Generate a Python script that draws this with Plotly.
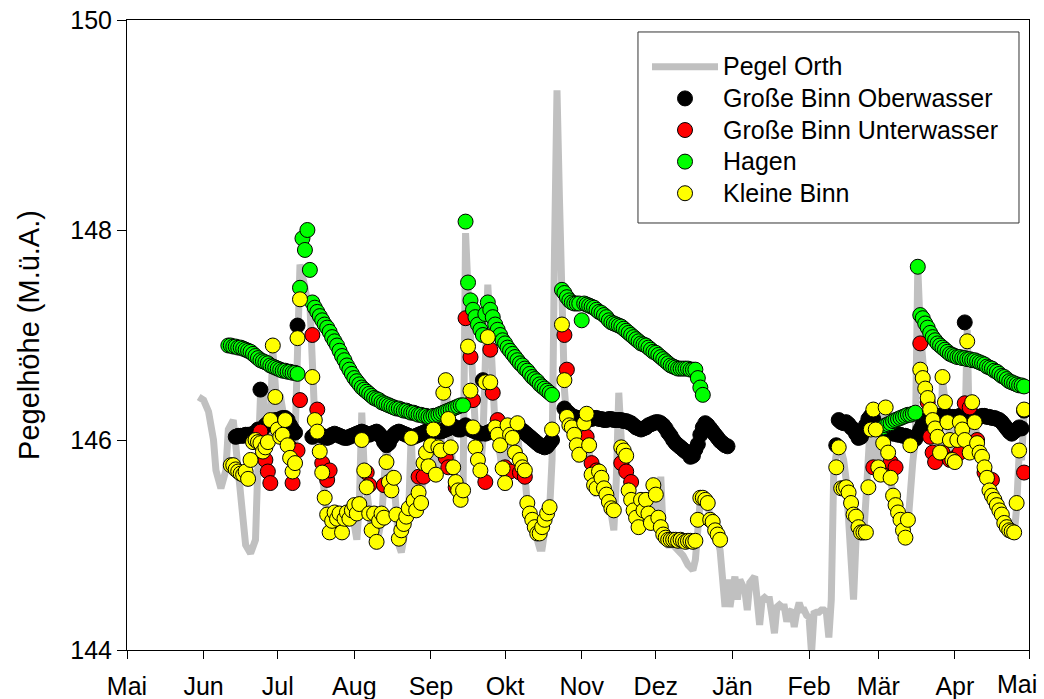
import pandas as pd
import plotly.graph_objects as go

# ---------------- data ----------------
season_start = "2013-05-01"          # day 0 of the season (1. Mai)

month_ticks = ["2013-05-01", "2013-06-01", "2013-07-01", "2013-08-01", "2013-09-01",
               "2013-10-01", "2013-11-01", "2013-12-01", "2014-01-01", "2014-02-01",
               "2014-03-01", "2014-04-01", "2014-05-01"]
month_labels = ["Mai", "Jun", "Jul", "Aug", "Sep", "Okt", "Nov", "Dez",
                "Jän", "Feb", "Mär", "Apr", "Mai"]

# Pegel Orth (day of season, level)
orth_days = [29, 31, 33, 35, 36, 38, 40, 41, 43, 44,
             46, 47, 48, 50, 51, 52, 53, 54, 55, 56,
             57, 58, 59, 60, 61, 62, 63, 64, 65, 66,
             67, 68, 69, 70, 71, 72, 73, 74, 75, 76,
             77, 78, 79, 80, 81, 82, 84, 86, 87, 89,
             91, 93, 94, 95, 96, 97, 98, 99, 101, 103,
             105, 106, 107, 108, 109, 110, 111, 112, 113, 114,
             115, 116, 117, 118, 119, 120, 121, 122, 123, 124,
             125, 126, 127, 128, 129, 130, 131, 132, 133, 134,
             135, 136, 137, 138, 139, 140, 141, 142, 143, 144,
             145, 146, 147, 148, 149, 150, 151, 152, 153, 154,
             155, 156, 157, 158, 159, 160, 161, 162, 163, 164,
             165, 166, 167, 168, 169, 170, 171, 172, 173, 174,
             175, 176, 177, 178, 179, 180, 181, 182, 183, 184,
             185, 186, 187, 188, 189, 190, 191, 192, 193, 194,
             195, 196, 197, 198, 199, 200, 201, 202, 203, 204,
             205, 206, 207, 208, 209, 210, 211, 212, 213, 214,
             215, 216, 217, 218, 219, 221, 223, 225, 227, 229,
             230, 231, 232, 233, 234, 235, 236, 237, 238, 239,
             240, 241, 242, 243, 244, 245, 246, 247, 248, 249,
             250, 251, 252, 253, 254, 255, 256, 257, 258, 259,
             260, 261, 262, 263, 264, 265, 266, 267, 268, 269,
             270, 271, 272, 273, 274, 275, 276, 277, 278, 279,
             280, 281, 282, 283, 284, 285, 286, 287, 288, 289,
             290, 291, 292, 293, 294, 295, 296, 297, 298, 299,
             300, 301, 302, 303, 304, 305, 306, 307, 308, 309,
             310, 311, 312, 313, 314, 315, 316, 317, 318, 319,
             320, 321, 322, 323, 324, 325, 326, 327, 328, 329,
             330, 331, 332, 333, 334, 335, 336, 337, 338, 339,
             340, 341, 342, 343, 344, 345, 346, 347, 348, 349,
             350, 351, 352, 353, 354, 355, 356, 357, 358, 359,
             360, 361, 362, 363]
orth_level = [146.41, 146.38, 146.27, 146.00, 145.71, 145.54, 145.71, 146.10, 146.19, 145.95,
              145.62, 145.24, 145.00, 144.92, 144.98, 145.05, 145.78, 146.41, 146.48, 146.10,
              146.00, 146.19, 146.86, 146.38, 146.19, 146.43, 146.29, 146.19, 146.00, 145.81,
              145.71, 146.00, 146.86, 147.67, 147.57, 147.43, 147.33, 147.30, 146.76, 146.19,
              146.05, 145.86, 145.67, 145.43, 145.26, 145.10, 145.24, 145.29, 145.10, 145.29,
              145.33, 145.05, 145.38, 146.26, 145.71, 145.52, 145.29, 145.14, 145.00, 145.24,
              145.97, 145.62, 145.48, 145.62, 145.29, 145.00, 144.93, 145.10, 145.19, 145.33,
              146.05, 145.43, 145.31, 145.48, 145.38, 145.76, 145.86, 145.71, 145.90, 146.05,
              145.70, 145.90, 145.95, 146.38, 146.57, 146.21, 145.89, 145.71, 145.57, 145.48,
              145.38, 145.52, 147.97, 147.43, 146.90, 146.43, 146.10, 145.86, 145.71, 146.00,
              146.57, 147.48, 147.05, 146.52, 146.10, 145.95, 145.86, 145.67, 145.52, 146.08,
              145.98, 145.95, 145.86, 146.10, 145.79, 145.71, 145.67, 145.38, 145.29, 145.22,
              145.14, 145.05, 144.97, 144.97, 145.14, 145.29, 145.33, 145.81, 147.81, 149.33,
              148.29, 147.33, 146.48, 146.19, 146.14, 146.10, 146.03, 145.90, 145.79, 146.10,
              146.19, 146.26, 145.89, 145.62, 145.50, 145.48, 145.64, 145.57, 145.48, 145.41,
              145.33, 145.29, 145.14, 145.62, 146.45, 146.00, 145.89, 145.83, 145.52, 145.43,
              145.31, 145.24, 145.14, 145.43, 145.31, 145.43, 145.26, 145.16, 145.52, 145.45,
              145.22, 145.65, 145.10, 145.05, 145.00, 145.00, 144.95, 144.90, 144.81, 144.76,
              144.86, 145.19, 145.43, 145.45, 145.43, 145.43, 145.22, 145.19, 145.10, 145.05,
              144.95, 144.70, 144.41, 144.67, 144.41, 144.57, 144.70, 144.48, 144.67, 144.62,
              144.57, 144.38, 144.64, 144.67, 144.70, 144.48, 144.24, 144.48, 144.50, 144.48,
              144.48, 144.33, 144.16, 144.41, 144.43, 144.41, 144.41, 144.27, 144.36, 144.38,
              144.22, 144.36, 144.45, 144.38, 144.38, 144.33, 144.31, 143.97, 144.35, 144.36,
              144.36, 144.38, 144.38, 144.36, 144.12, 144.48, 145.71, 145.86, 145.86, 145.90,
              145.81, 145.62, 145.24, 144.67, 144.48, 145.05, 145.14, 145.10, 145.05, 145.43,
              146.00, 146.24, 146.10, 145.71, 145.62, 145.95, 146.29, 145.95, 145.71, 145.62,
              145.48, 145.38, 145.29, 145.21, 145.11, 145.05, 145.19, 145.62, 145.80, 146.00,
              147.64, 147.05, 146.62, 146.48, 146.33, 146.19, 146.10, 146.00, 145.90, 145.81,
              146.57, 146.38, 146.14, 146.00, 145.81, 146.00, 146.24, 146.14, 146.08, 146.00,
              147.05, 145.90, 146.33, 146.14, 145.93, 145.86, 145.81, 145.71, 145.62, 145.50,
              145.46, 145.40, 145.36, 145.30, 145.26, 145.17, 145.12, 145.10, 145.10, 145.10,
              145.36, 145.86, 145.81, 146.26]

# Große Binn Oberwasser: daily readings, each run starts at the given day
ober_run1_start = 44
ober_run1 = [146.03, 146.04, 146.04, 146.04, 146.05, 146.05, 146.05, 146.06, 146.07, 146.10,
             146.48, 146.11, 146.14, 146.16, 146.17, 146.18, 146.19, 146.19, 146.20, 146.21,
             146.21, 146.19, 146.14, 146.10, 146.07, 147.09]
ober_run2_start = 75
ober_run2 = [146.03, 146.05, 146.06, 146.05, 146.04, 146.03,
             146.02, 146.03, 146.05, 146.06, 146.05, 146.04,
             146.03, 146.02, 146.02, 146.03, 146.04, 146.05,
             146.06, 146.07, 146.08, 146.07, 146.06, 146.05,
             146.06, 146.07, 146.08, 146.06, 146.03, 145.98,
             145.95, 145.97, 146.02, 146.05, 146.07, 146.08,
             146.07, 146.06, 146.05, 146.04, 146.03, 146.03,
             146.04, 146.05, 146.06, 146.07, 146.08, 146.09,
             146.10, 146.10, 146.09, 146.08, 146.08, 146.09,
             146.10, 146.11, 146.12, 146.13, 146.12, 146.10,
             146.10, 146.12, 146.14, 146.12, 146.10, 146.09, 146.08, 146.07, 146.06,
             146.57,
             146.06, 146.07, 146.08, 146.09, 146.09, 146.08, 146.07, 146.06,
             146.05, 146.05, 146.06, 146.07, 146.08, 146.09, 146.10, 146.09, 146.07, 146.05,
             146.03, 146.01, 145.99, 145.97, 145.95, 145.94, 145.93, 145.94, 145.97, 146.00]
ober_run3_start = 177
ober_run3 = [146.30, 146.27, 146.25, 146.23, 146.22, 146.21, 146.21, 146.20,
             146.21, 146.21, 146.20, 146.20, 146.21, 146.21, 146.20, 146.20, 146.19, 146.19, 146.20,
             146.20, 146.19, 146.19, 146.19, 146.19, 146.18, 146.18, 146.17,
             146.16, 146.14, 146.12, 146.11, 146.10, 146.11, 146.12, 146.14, 146.15, 146.16, 146.17, 146.17,
             146.16, 146.14, 146.11, 146.07, 146.04, 146.00, 145.97, 145.95, 145.93, 145.91, 145.89,
             145.88, 145.84, 145.85, 145.91,
             145.96, 146.05, 146.12, 146.16, 146.14, 146.11, 146.08, 146.05, 146.02, 145.99,
             145.97, 145.95, 145.94]
ober_run4_start = 287
ober_run4 = [145.95, 146.19, 146.17, 146.16, 146.17, 146.15, 146.12, 146.10, 146.06, 146.02,
             146.03, 146.08, 146.14, 146.20, 146.23, 146.20, 146.15, 146.12,
             146.10, 146.09, 146.09, 146.08, 146.07, 146.06, 146.06, 146.05, 146.05, 146.04,
             146.04, 146.03, 146.02, 146.02, 146.01,
             146.05, 146.10, 146.15, 146.18, 146.19, 146.20, 146.21, 146.22, 146.22, 146.23,
             146.23, 146.23, 146.23, 146.22, 146.22, 146.22, 146.22, 146.23, 146.23,
             147.12,
             146.23, 146.23, 146.23, 146.22, 146.22, 146.22, 146.23, 146.23, 146.22, 146.22, 146.21,
             146.21, 146.20, 146.19, 146.17, 146.14, 146.11, 146.08, 146.06, 146.08, 146.10,
             146.12, 146.11, 146.28]

# Große Binn Unterwasser (day of season, level)
unter_days = [54, 56, 57, 58, 66, 67, 69, 70, 75, 77,
              79, 81, 82, 97, 98, 104, 118, 120, 129, 130,
              133, 137, 139, 140, 145, 147, 148, 150, 153, 155,
              159, 161, 177, 178, 186, 188, 190, 200, 202, 204,
              302, 305, 309, 311, 321, 324, 325, 326, 327, 330,
              333, 335, 337, 339, 341, 343, 344, 347, 350, 363]
unter_level = [146.08, 145.81, 145.70, 145.59, 145.93, 145.59, 145.90, 146.38, 147.00, 146.29,
               145.78, 145.62, 145.71, 145.69, 145.57, 145.57, 145.65, 145.65, 145.83, 145.74,
               145.55, 147.16, 146.79, 146.38, 145.60, 146.86, 146.45, 146.19, 145.74, 145.70,
               145.69, 145.65, 147.00, 146.67, 146.03, 145.78, 145.71, 145.78, 145.70, 145.60,
               145.74, 145.69, 145.79, 145.74, 146.92, 146.36, 146.03, 145.88, 145.79, 145.88,
               145.81, 145.83, 145.88, 146.35, 146.31, 145.93, 146.00, 145.69, 145.62, 145.69]

# Hagen: daily readings
hagen_run1_start = 41
hagen_run1 = [146.90, 146.90, 146.89, 146.89, 146.88, 146.88, 146.87,
              146.86, 146.85, 146.84, 146.82, 146.80, 146.78, 146.76, 146.75, 146.74, 146.73,
              146.71, 146.70, 146.69, 146.68, 146.67, 146.66, 146.66, 146.65, 146.65, 146.64, 146.64, 146.63,
              147.45, 147.92, 147.81, 148.00,
              147.62, 147.31, 147.26, 147.22, 147.18, 147.14, 147.10, 147.07, 147.03, 146.98,
              146.94, 146.90, 146.85, 146.80, 146.76, 146.71, 146.67, 146.63, 146.59, 146.56,
              146.53, 146.50, 146.48, 146.46, 146.44, 146.42, 146.40, 146.39, 146.38, 146.36,
              146.35, 146.34, 146.33, 146.32, 146.31, 146.30, 146.30, 146.29, 146.28, 146.28,
              146.27, 146.26, 146.26, 146.25, 146.24, 146.24, 146.23, 146.23, 146.22, 146.22,
              146.23, 146.23, 146.24, 146.25, 146.26, 146.27, 146.28, 146.29, 146.30, 146.31,
              146.32, 146.33, 146.33,
              148.08,
              147.50, 147.33, 147.24, 147.17, 147.10, 147.05, 147.00,
              147.20, 147.31, 147.24, 147.17, 147.10, 147.05, 147.00,
              146.95, 146.92, 146.88, 146.85, 146.82, 146.79, 146.76, 146.73, 146.71,
              146.68, 146.66, 146.63, 146.60, 146.58, 146.56, 146.53, 146.51, 146.49, 146.47,
              146.45, 146.43]
hagen_run2_start = 176
hagen_run2 = [147.43, 147.40, 147.36, 147.33, 147.31, 147.30, 147.30, 147.30, 147.14, 147.30,
              147.29, 147.28, 147.27, 147.26, 147.24, 147.22, 147.21, 147.19, 147.17, 147.14,
              147.12, 147.11, 147.10, 147.09, 147.08, 147.06, 147.04, 147.02, 147.00, 146.98,
              146.96, 146.94, 146.92, 146.91, 146.90, 146.88, 146.86, 146.84, 146.83, 146.81,
              146.79, 146.77, 146.75, 146.73, 146.71, 146.70, 146.69, 146.68, 146.68, 146.68,
              146.68, 146.68, 146.67, 146.67, 146.67, 146.59, 146.50, 146.43]
hagen_run3_start = 305
hagen_run3 = [146.11, 146.12, 146.14, 146.15, 146.16, 146.18, 146.19, 146.20, 146.21, 146.22,
              146.23, 146.24, 146.24, 146.25, 146.26,
              147.65, 147.19, 147.16, 147.11, 147.07, 147.02, 146.98, 146.95, 146.92, 146.90,
              146.88, 146.86, 146.84, 146.82, 146.81, 146.80, 146.79, 146.79, 146.78, 146.78,
              146.77, 146.77, 146.76, 146.76, 146.75, 146.74, 146.73, 146.72, 146.70, 146.69,
              146.68, 146.66, 146.65, 146.63, 146.61, 146.60, 146.58, 146.56, 146.55, 146.54,
              146.53, 146.52, 146.52, 146.51]

# Kleine Binn: daily readings (None = no reading that day)
kbinn_run1_start = 42
kbinn_run1 = [145.76, 145.76, 145.72, 145.70, 145.68, 145.67, 145.70, 145.63, 145.81, 145.98,
              146.00, 145.98, 145.97, 145.89, 145.93, 145.98, 146.19, 146.90, 146.41, 146.10,
              146.03, 146.05, 146.19, 145.95, 145.83, 145.70, 145.78, 146.97, 147.34, None,
              None, None, None, 146.60, 146.19, 146.08, 145.89, 145.69, 145.45, 145.29,
              145.12, 145.23, 145.31, 145.25, 145.30, 145.12, 145.25, 145.31, 145.25, 145.33,
              145.38, 145.30, 145.39, 146.00, 145.71, 145.55, 145.30, 145.14, 145.30, 145.03,
              145.23, 145.30, 145.26, 145.79, 145.60, 145.52, 145.64, 145.29, 145.06, 145.14,
              145.20, 145.27, 145.35, 146.02, 145.42, 145.33, 145.50, 145.40, 145.78, 145.88,
              145.75, 145.95, 146.10, 145.67, 145.93, 145.90, 146.45, 146.57, 146.20, 145.93,
              145.74, 145.60, 145.52, 145.43, 145.52, None, 146.89, 146.47, 146.12, 145.93,
              145.81, 145.71, None, 146.55, 146.98, 146.55, None, 146.12, 146.05, 145.95,
              145.73, 145.59, 146.14, 146.05, 146.02, 145.88, 146.16, 145.81, 145.74, 145.71,
              145.40, 145.30, 145.24, 145.17, 145.11, 145.11, 145.17, 145.24, 145.30, 145.36,
              146.10, None, None, None, 147.10, 146.57, 146.22, 146.14, 146.12, 146.05,
              145.95, 145.86, None, 146.16, 146.25, 145.95, 145.67, 145.57, 145.54, 145.70,
              145.64, 145.54, 145.48, 145.41, 145.35, 145.33, None, None, 145.93, 145.90,
              145.85, 145.52, 145.43, 145.33, 145.26, 145.17, 145.43, 145.33, 145.43, 145.30,
              145.21, 145.57, 145.48, 145.26, 145.17, 145.10, 145.07, 145.05, 145.05, 145.05,
              145.05, 145.04, 145.05, 145.04, 145.03, 145.04, 145.04, 145.03, 145.04, 145.24,
              145.45, 145.45, 145.43, 145.40, 145.24, 145.22, 145.14, 145.10, 145.05]
kbinn_run2_start = 287
kbinn_run2 = [145.74, 145.93, 145.54, 145.54, 145.55, 145.50, 145.40, 145.29, 145.27, 145.17,
              145.12, 145.12, 145.12, 145.55, 146.10, 146.29, 146.10, 145.74, 145.67, 145.97,
              146.31, 145.88, 145.64, 145.47, 145.38, 145.31, 145.24, 145.14, 145.07, 145.24,
              145.95, None, None, None, 146.67, 146.59, 146.49, 146.40, 146.29, 146.19,
              146.11, 146.03, 145.88, 146.60, 146.36, 146.17, 146.00, 145.81, 145.79, 146.00,
              146.17, 146.10, 146.00, 146.94, 145.88, 146.36, 146.17, 145.97, 145.88, 145.84,
              145.74, 145.64, 145.52, 145.47, 145.43, 145.38, 145.33, 145.29, 145.21, 145.17,
              145.14, 145.13, 145.12, 145.40, 145.90, None, 146.29]

# ---------------- helpers ----------------
t0 = pd.Timestamp(season_start)


def to_dates(days):
    return [t0 + pd.Timedelta(days=int(d)) for d in days]


def runs(*pairs):
    days, vals = [], []
    for start, values in pairs:
        for i, v in enumerate(values):
            days.append(start + i)
            vals.append(v)
    return to_dates(days), vals


def legend_name(text):
    # legend rows are spaced by legend.font.size; the entry text itself is larger
    return '<span style="font-size:25px">' + text + '</span>'


FONT = "Arial, 'Liberation Sans', Helvetica, sans-serif"

fig = go.Figure()

fig.add_trace(go.Scatter(
    x=to_dates(orth_days), y=orth_level, mode="lines", name=legend_name("Pegel Orth"),
    line=dict(color="#c0c0c0", width=7)))

marker_line = dict(color="black", width=1)
msize = 15

ox, oy = runs((ober_run1_start, ober_run1), (ober_run2_start, ober_run2),
              (ober_run3_start, ober_run3), (ober_run4_start, ober_run4))
fig.add_trace(go.Scatter(x=ox, y=oy, mode="markers", name=legend_name("Große Binn Oberwasser"),
                         marker=dict(size=msize, color="#000000", line=marker_line)))

fig.add_trace(go.Scatter(x=to_dates(unter_days), y=unter_level, mode="markers",
                         name=legend_name("Große Binn Unterwasser"),
                         marker=dict(size=msize, color="#ff0000", line=marker_line)))

hx, hy = runs((hagen_run1_start, hagen_run1), (hagen_run2_start, hagen_run2),
              (hagen_run3_start, hagen_run3))
fig.add_trace(go.Scatter(x=hx, y=hy, mode="markers", name=legend_name("Hagen"),
                         marker=dict(size=msize, color="#00ff00", line=marker_line)))

kx, ky = runs((kbinn_run1_start, kbinn_run1), (kbinn_run2_start, kbinn_run2))
fig.add_trace(go.Scatter(x=kx, y=ky, mode="markers", name=legend_name("Kleine Binn"),
                         marker=dict(size=msize, color="#ffff00", line=marker_line)))

fig.update_layout(
    width=1044, height=699,
    margin=dict(l=127, r=15, t=20, b=49),
    paper_bgcolor="white", plot_bgcolor="white",
    font=dict(family=FONT, color="black", size=25),
    showlegend=True,
    legend=dict(x=0.5765, y=0.9587, xanchor="left", yanchor="top",
                borderwidth=0, bgcolor="rgba(0,0,0,0)",
                font=dict(size=22, family=FONT), itemwidth=66),
    shapes=[dict(type="rect", xref="paper", yref="paper",
                 x0=0.5665, x1=0.9889, y0=0.6778, y1=0.981,
                 line=dict(color="#333333", width=1), fillcolor="white",
                 layer="above")],
    annotations=[dict(text=month_labels[-1], x=month_ticks[-1], xref="x",
                      y=0, yref="paper", yanchor="middle", yshift=-34,
                      xanchor="center", xshift=-12, showarrow=False,
                      borderpad=0, font=dict(size=25, family=FONT))],
)

fig.update_xaxes(
    type="date", range=[month_ticks[0], month_ticks[-1]],
    tickmode="array", tickvals=month_ticks,
    ticktext=month_labels[:-1] + [""],   # last label drawn as annotation so it stays inside the window
    ticks="outside", ticklen=8, tickwidth=1, tickcolor="black",
    showline=True, linecolor="black", linewidth=1, mirror=True,
    showgrid=False, zeroline=False, tickfont=dict(size=25), automargin=False,
    ticklabeloverflow="allow", ticklabelstandoff=6,
)
fig.update_yaxes(
    range=[144, 150], tickvals=[144, 146, 148, 150],
    ticks="outside", ticklen=9, tickwidth=1, tickcolor="black",
    showline=True, linecolor="black", linewidth=1, mirror=True,
    showgrid=False, zeroline=False, tickfont=dict(size=25), automargin=False,
    ticklabeloverflow="allow",
    title=dict(text="Pegelhöhe (M.ü.A.)", font=dict(size=29), standoff=22),
)

# the figure is exactly the window size: drop the default 8px page margin
fig.write_html("out.html",
               config={"displayModeBar": False},
               post_script="document.body.style.margin='0';"
                           "document.body.style.overflow='hidden';")
